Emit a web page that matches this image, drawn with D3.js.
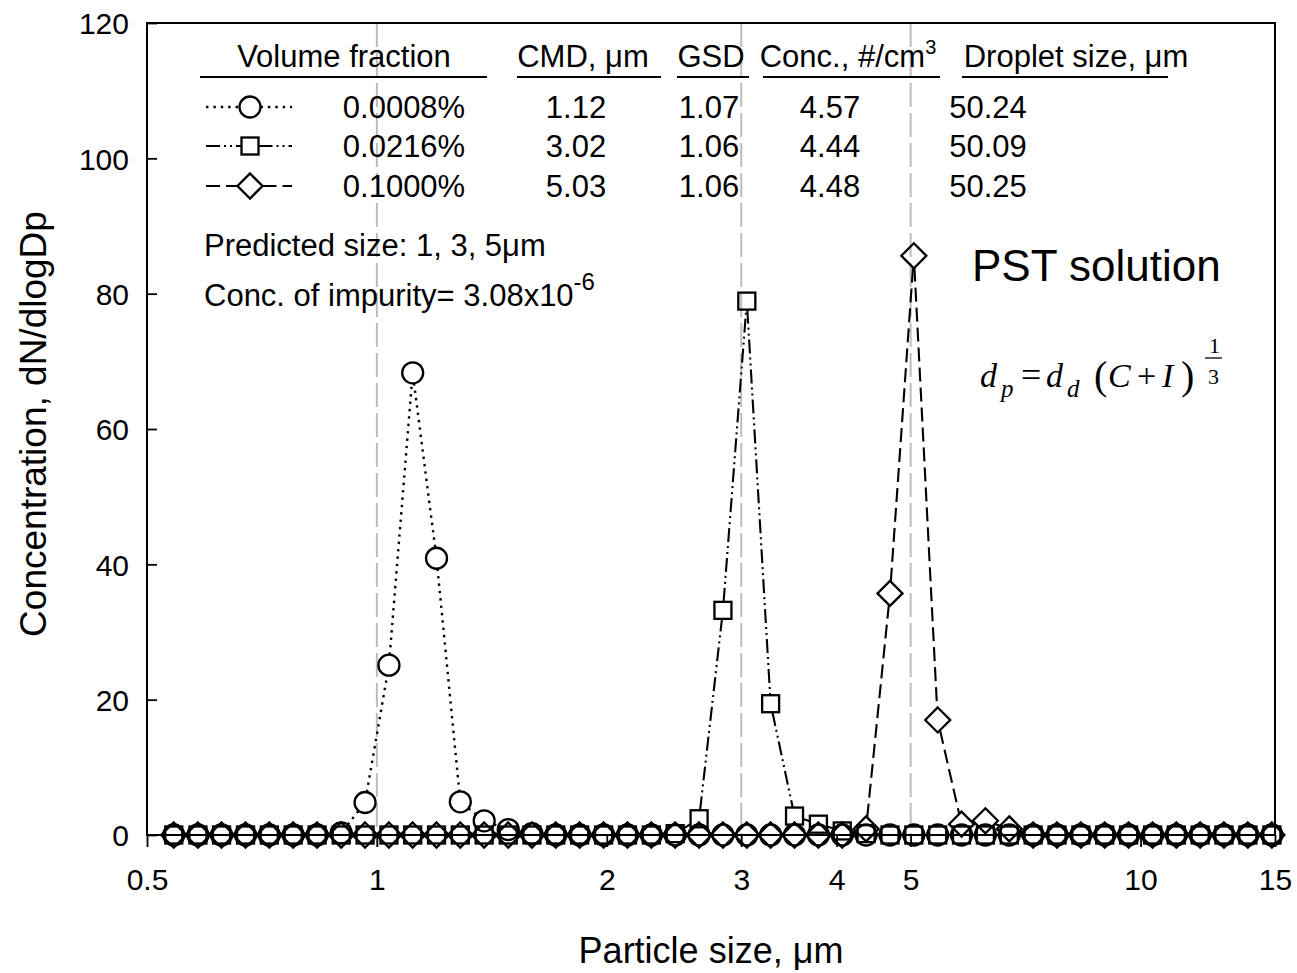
<!DOCTYPE html>
<html>
<head>
<meta charset="utf-8">
<script src="https://cdn.jsdelivr.net/npm/d3@7"></script>
<style>
  body { margin: 0; background: #fff; }
  svg { font-family: "Liberation Sans", Arial, sans-serif; }
</style>
</head>
<body>
<svg id="chart" width="1297" height="973"></svg>
<script>
// APS channel midpoints, um
var sizes = [0.542, 0.583, 0.626, 0.673, 0.723, 0.777, 0.835, 0.898, 0.965, 1.037,
             1.114, 1.197, 1.286, 1.382, 1.486, 1.596, 1.715, 1.843, 1.981, 2.129,
             2.288, 2.458, 2.642, 2.839, 3.051, 3.278, 3.523, 3.786, 4.068, 4.371,
             4.698, 5.048, 5.425, 5.829, 6.264, 6.732, 7.234, 7.774, 8.354, 8.977,
             9.647, 10.37, 11.14, 11.97, 12.86, 13.82, 14.86];

var frac0008 = [0, 0, 0, 0, 0, 0, 0, 0.3, 4.8, 25.1,
                68.3, 40.9, 4.9, 2.1, 0.8, 0.2, 0, 0, 0, 0,
                0, 0, 0, 0, 0, 0, 0, 0, 0, 0,
                0, 0, 0, 0, 0, 0, 0, 0, 0, 0,
                0, 0, 0, 0, 0, 0, 0];

var frac0216 = [0, 0, 0, 0, 0, 0, 0, 0, 0, 0,
                0, 0, 0, 0, 0, 0, 0, 0, 0, 0,
                0, 0.2, 2.4, 33.2, 78.9, 19.4, 2.8, 1.6, 0.6, 0.2,
                0, 0, 0, 0, 0, 0, 0, 0, 0, 0,
                0, 0, 0, 0, 0, 0, 0];

var frac1000 = [0, 0, 0, 0, 0, 0, 0, 0, 0, 0,
                0, 0, 0, 0, 0, 0, 0, 0, 0, 0,
                0, 0, 0, 0, 0, 0, 0, 0, 0, 0.9,
                35.7, 85.6, 17.0, 1.6, 2.1, 0.9, 0, 0, 0, 0,
                0, 0, 0, 0, 0, 0, 0];

var xTicks = [0.5, 1, 2, 3, 4, 5, 10, 15];
var yTicks = [0, 20, 40, 60, 80, 100, 120];
var predicted = [1, 3, 5];

var headers = ["Volume fraction", "CMD, \u03bcm", "GSD", "Conc., #/cm", "Droplet size, \u03bcm"];
var fractions = ["0.0008%", "0.0216%", "0.1000%"];
var cmd = ["1.12", "3.02", "5.03"];
var gsd = ["1.07", "1.06", "1.06"];
var conc = ["4.57", "4.44", "4.48"];
var droplet = ["50.24", "50.09", "50.25"];

var svg = d3.select("#chart");
var pLeft = 147, pRight = 1275, pTop = 23, pBottom = 835;

var x = d3.scaleLog().domain([0.5, 15]).range([pLeft, pRight]);
var y = d3.scaleLinear().domain([0, 120]).range([pBottom, pTop]);

// predicted size guide lines
svg.selectAll("line.guide")
    .data(predicted)
    .enter()
    .append("line")
    .attr("x1", function(d) { return x(d); })
    .attr("x2", function(d) { return x(d); })
    .attr("y1", pTop)
    .attr("y2", pBottom + 12)
    .attr("stroke", "#bdbdbd")
    .attr("stroke-width", 2)
    .attr("stroke-dasharray", "24,6");

// axes
var xAxis = d3.axisBottom(x)
    .tickValues(xTicks)
    .tickFormat(function(d) { return d; })
    .tickSize(12)
    .tickPadding(22);
var gx = svg.append("g").attr("transform", "translate(0," + pBottom + ")").call(xAxis);

var yAxis = d3.axisLeft(y)
    .tickValues(yTicks)
    .tickSize(-10)
    .tickPadding(18);
var gy = svg.append("g").attr("transform", "translate(" + pLeft + ",0)").call(yAxis);

[gx, gy].forEach(function(g) {
    g.select(".domain").remove();
    g.selectAll(".tick line").attr("stroke", "#000").attr("stroke-width", 1.8);
    g.selectAll(".tick text")
        .attr("fill", "#000")
        .style("font-size", "30px")
        .style("font-family", "Liberation Sans, Arial, sans-serif");
});
gy.selectAll(".tick text").attr("dy", "0.36em");

svg.append("rect")
    .attr("x", pLeft).attr("y", pTop)
    .attr("width", pRight - pLeft).attr("height", pBottom - pTop)
    .attr("fill", "none")
    .attr("stroke", "#000")
    .attr("stroke-width", 2);

// axis titles
svg.append("text")
    .attr("transform", "translate(46,424) rotate(-90)")
    .attr("text-anchor", "middle")
    .style("font-size", "37px")
    .text("Concentration, dN/dlogDp");

svg.append("text")
    .attr("x", 711)
    .attr("y", 963)
    .attr("text-anchor", "middle")
    .style("font-size", "36px")
    .text("Particle size, \u03bcm");

// series
var series = [
    { values: frac0008, shape: "circle", dash: "2.4,5", width: 2.4 },
    { values: frac0216, shape: "square", dash: "14,4,2,4,2,4", width: 2.1 },
    { values: frac1000, shape: "diamond", dash: "14,6", width: 2.1 }
];

var R = 10.5, H = 8.5, D = 12.5;

function edgeDist(shape, ux, uy) {
    if (shape == "circle") return R;
    if (shape == "square") return H / Math.max(Math.abs(ux), Math.abs(uy));
    return D / (Math.abs(ux) + Math.abs(uy));
}

function drawMarker(g, shape, cx, cy) {
    if (shape == "circle") {
        g.append("circle").attr("cx", cx).attr("cy", cy).attr("r", R);
    } else if (shape == "square") {
        g.append("rect").attr("x", cx - H).attr("y", cy - H)
            .attr("width", 2 * H).attr("height", 2 * H);
    } else {
        g.append("path").attr("d", "M" + cx + "," + (cy - D) + "L" + (cx + D) + "," + cy +
            "L" + cx + "," + (cy + D) + "L" + (cx - D) + "," + cy + "Z");
    }
}

series.forEach(function(s) {
    var pts = sizes.map(function(d, i) { return [x(d), y(s.values[i])]; });
    var segs = [];
    for (var i = 0; i < pts.length - 1; i++) {
        var dx = pts[i + 1][0] - pts[i][0], dy = pts[i + 1][1] - pts[i][1];
        var len = Math.sqrt(dx * dx + dy * dy);
        var ux = dx / len, uy = dy / len;
        var a = edgeDist(s.shape, ux, uy);
        if (len > 2 * a) {
            segs.push([pts[i][0] + ux * a, pts[i][1] + uy * a,
                       pts[i + 1][0] - ux * a, pts[i + 1][1] - uy * a]);
        }
    }
    svg.append("g").selectAll("line")
        .data(segs)
        .enter()
        .append("line")
        .attr("x1", function(d) { return d[0]; })
        .attr("y1", function(d) { return d[1]; })
        .attr("x2", function(d) { return d[2]; })
        .attr("y2", function(d) { return d[3]; })
        .attr("stroke", "#000")
        .attr("stroke-width", s.width)
        .attr("stroke-dasharray", s.dash);
    s.pts = pts;
});

series.forEach(function(s) {
    var g = svg.append("g").attr("fill", "none").attr("stroke", "#000").attr("stroke-width", 2.3);
    s.pts.forEach(function(p) { drawMarker(g, s.shape, p[0], p[1]); });
});

// table legend
var tbl = svg.append("g").style("font-size", "31px");
var headX = [344, 583, 711, 848, 1076];
var lineX = [[200, 487], [517, 661], [677, 749], [763, 940], [962, 1168]];

headers.forEach(function(h, i) {
    var t = tbl.append("text")
        .attr("x", headX[i]).attr("y", 67)
        .attr("text-anchor", "middle")
        .text(h);
    if (i == 3) t.append("tspan").attr("dy", -13).style("font-size", "20px").text("3");
    tbl.append("line")
        .attr("x1", lineX[i][0]).attr("x2", lineX[i][1])
        .attr("y1", 77).attr("y2", 77)
        .attr("stroke", "#000").attr("stroke-width", 1.8);
});

var rowY = [118, 157, 197];
var colX = [404, 576, 709, 830, 988];
var cols = [fractions, cmd, gsd, conc, droplet];
cols.forEach(function(col, c) {
    col.forEach(function(v, r) {
        tbl.append("text")
            .attr("x", colX[c]).attr("y", rowY[r])
            .attr("text-anchor", "middle")
            .text(v);
    });
});

series.forEach(function(s, r) {
    var cy = rowY[r] - 11, cx = 250;
    var a = edgeDist(s.shape, 1, 0);
    var g = svg.append("g").attr("stroke", "#000").attr("stroke-width", s.width)
        .attr("stroke-dasharray", s.dash);
    g.append("line").attr("x1", 206).attr("x2", cx - a).attr("y1", cy).attr("y2", cy);
    g.append("line").attr("x1", cx + a).attr("x2", 292).attr("y1", cy).attr("y2", cy);
    var m = svg.append("g").attr("fill", "none").attr("stroke", "#000").attr("stroke-width", 2.3);
    drawMarker(m, s.shape, cx, cy);
});

// notes
svg.append("text").attr("x", 204).attr("y", 256).style("font-size", "31px")
    .text("Predicted size: 1, 3, 5\u03bcm");
var imp = svg.append("text").attr("x", 204).attr("y", 306).style("font-size", "31px")
    .text("Conc. of impurity= 3.08x10");
imp.append("tspan").attr("dy", -16).style("font-size", "24px").text("-6");

svg.append("text").attr("x", 972).attr("y", 281).style("font-size", "44px")
    .text("PST solution");

// formula, placed glyph by glyph
var serif = "Liberation Serif, Times New Roman, serif";
var glyphs = [
    { t: "d", x: 980, y: 387, s: 34, i: true },
    { t: "p", x: 1001, y: 397, s: 25, i: true },
    { t: "=", x: 1021, y: 387, s: 36, i: false },
    { t: "d", x: 1046, y: 387, s: 34, i: true },
    { t: "d", x: 1067, y: 397, s: 25, i: true },
    { t: "(", x: 1094, y: 389, s: 40, i: false },
    { t: "C", x: 1108, y: 387, s: 34, i: true },
    { t: "+", x: 1137, y: 387, s: 34, i: false },
    { t: "I", x: 1162, y: 387, s: 34, i: true },
    { t: ")", x: 1181, y: 389, s: 40, i: false },
    { t: "1", x: 1209, y: 353, s: 22, i: false },
    { t: "3", x: 1208, y: 384, s: 22, i: false }
];
var f = svg.append("g").style("font-family", serif);
glyphs.forEach(function(g) {
    f.append("text")
        .attr("x", g.x).attr("y", g.y)
        .style("font-size", g.s + "px")
        .style("font-style", g.i ? "italic" : "normal")
        .text(g.t);
});
f.append("line").attr("x1", 1205).attr("x2", 1222).attr("y1", 358).attr("y2", 358)
    .attr("stroke", "#000").attr("stroke-width", 1.3);
</script>
</body>
</html>
